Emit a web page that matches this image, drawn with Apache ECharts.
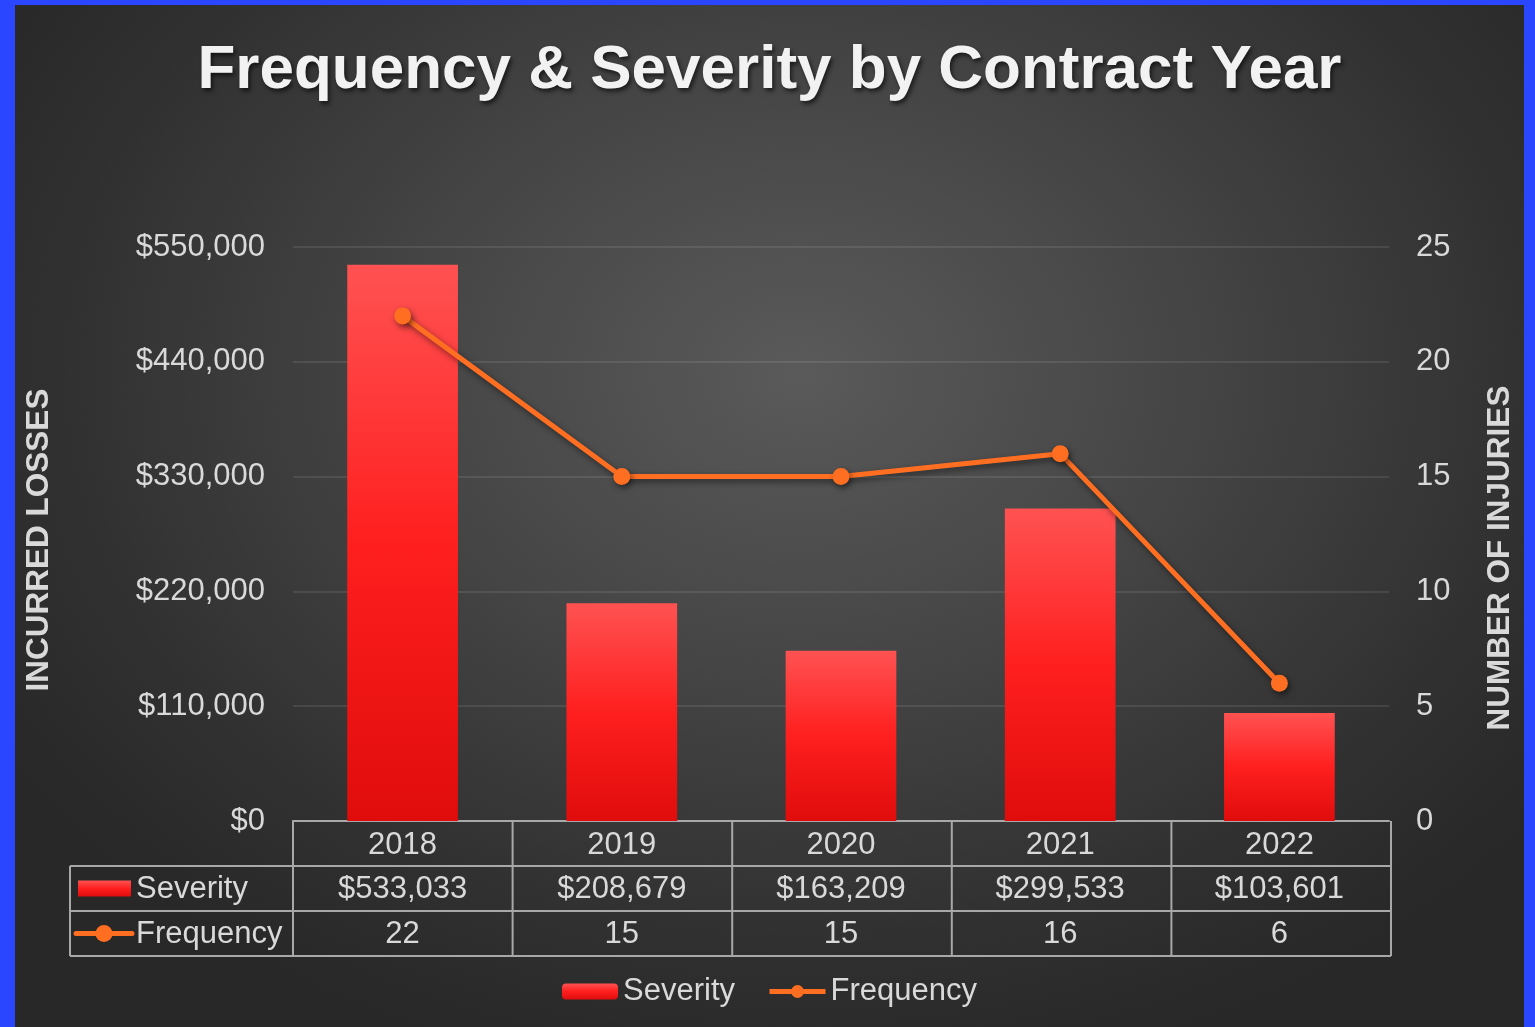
<!DOCTYPE html>
<html>
<head>
<meta charset="utf-8">
<script src="https://cdn.jsdelivr.net/npm/echarts@6/dist/echarts.min.js"></script>
<style>
  html, body { margin: 0; padding: 0; }
  body { width: 1535px; height: 1027px; background: #2b46ff; position: relative; overflow: hidden; }
  #chart {
    position: absolute; left: 15px; top: 5px; width: 1509px; height: 1022px;
    background: radial-gradient(ellipse 62% 70% at 52% 36%, #5a5a5a 0%, #464646 40%, #303030 80%, #282828 100%);
  }
</style>
</head>
<body>
<div id="chart"></div>
<script>
// data
const years = ['2018', '2019', '2020', '2021', '2022']
const severity = [533033, 208679, 163209, 299533, 103601]
const frequency = [22, 15, 15, 16, 6]
const rowNames = ['Severity', 'Frequency']

const FONT = '"Liberation Sans", Arial, sans-serif'
const textColor = '#d9d9d9'
const gridColor = 'rgba(255,255,255,0.12)'
const tableLine = '#a8a8a8'
const barGrad = new echarts.graphic.LinearGradient(0, 0, 0, 1, [
  { offset: 0, color: '#ff5252' },
  { offset: 0.5, color: '#ff1f1f' },
  { offset: 1, color: '#e00c0c' }
])
const lineColor = '#ff6e21'

const money = v => '$' + v.toLocaleString('en-US')

const chart = echarts.init(document.getElementById('chart'))

const gridBox = { left: 278, right: 133, top: 242, bottom: 206 }

chart.setOption({
  animation: false,
  textStyle: { fontFamily: FONT },
  title: {
    text: 'Frequency & Severity by Contract Year',
    left: 'center',
    top: 30,
    textStyle: {
      color: '#f2f2f2',
      fontSize: 62,
      fontWeight: 'bold',
      fontFamily: FONT,
      textShadowColor: 'rgba(0,0,0,0.6)',
      textShadowBlur: 4,
      textShadowOffsetX: 2,
      textShadowOffsetY: 3
    }
  },
  legend: {
    bottom: 15,
    left: 'center',
    itemWidth: 56,
    itemHeight: 16,
    itemGap: 32,
    textStyle: { color: textColor, fontSize: 31, fontFamily: FONT },
    data: [
      'Severity',
      { name: 'Frequency', lineStyle: { width: 5, shadowBlur: 0, shadowOffsetX: 0, shadowOffsetY: 0 } }
    ]
  },
  grid: gridBox,
  xAxis: {
    type: 'category',
    data: years,
    axisLine: { lineStyle: { color: tableLine, width: 2 } },
    axisTick: { show: false },
    axisLabel: { color: textColor, fontSize: 31, margin: 9, fontFamily: FONT }
  },
  yAxis: [
    {
      type: 'value',
      min: 0, max: 550000, interval: 110000,
      name: 'INCURRED LOSSES',
      nameLocation: 'middle',
      nameRotate: 90,
      nameGap: 238,
      nameTextStyle: { color: textColor, fontSize: 31.5, fontWeight: 'bold', fontFamily: FONT, padding: [0, 12, 0, 0] },
      axisLine: { show: false },
      axisTick: { show: false },
      axisLabel: { color: textColor, fontSize: 31, margin: 28, formatter: money, fontFamily: FONT },
      splitLine: { lineStyle: { color: gridColor, width: 1.5 } }
    },
    {
      type: 'value',
      min: 0, max: 25, interval: 5,
      name: 'NUMBER OF INJURIES',
      nameLocation: 'middle',
      nameRotate: 90,
      nameGap: 95,
      nameTextStyle: { color: textColor, fontSize: 31.5, fontWeight: 'bold', fontFamily: FONT, padding: [0, 48, 0, 0] },
      axisLine: { show: false },
      axisTick: { show: false },
      axisLabel: { color: textColor, fontSize: 31, margin: 27, fontFamily: FONT },
      splitLine: { show: false }
    }
  ],
  series: [
    {
      name: 'Severity',
      type: 'bar',
      data: severity,
      barWidth: '50.5%',
      itemStyle: {
        color: barGrad,
        shadowColor: 'rgba(0,0,0,0.55)',
        shadowBlur: 8,
        shadowOffsetX: 3,
        shadowOffsetY: 2
      }
    },
    {
      name: 'Frequency',
      type: 'line',
      yAxisIndex: 1,
      data: frequency,
      symbol: 'circle',
      symbolSize: 17,
      lineStyle: {
        color: lineColor, width: 5,
        shadowColor: 'rgba(0,0,0,0.5)', shadowBlur: 6, shadowOffsetX: 2, shadowOffsetY: 3
      },
      itemStyle: {
        color: lineColor,
        shadowColor: 'rgba(0,0,0,0.5)', shadowBlur: 6, shadowOffsetX: 2, shadowOffsetY: 3
      }
    }
  ]
})

// data table under the axis
function buildTable() {
  const W = chart.getWidth()
  const H = chart.getHeight()
  const left = gridBox.left
  const right = W - gridBox.right
  const axisY = H - gridBox.bottom
  const rowH = 45
  const labelLeft = 55
  const colW = (right - left) / years.length
  const els = []
  const line = (x1, y1, x2, y2) => ({
    type: 'line', silent: true, z: 10,
    shape: { x1, y1, x2, y2 },
    style: { stroke: tableLine, lineWidth: 2 }
  })
  const text = (x, y, t, align) => ({
    type: 'text', silent: true, z: 10,
    x, y,
    style: { text: t, fill: textColor, font: '31px ' + FONT, align: align || 'center', verticalAlign: 'middle' }
  })

  // horizontal rules
  for (let r = 1; r <= 3; r++) {
    els.push(line(labelLeft, axisY + r * rowH, right, axisY + r * rowH))
  }
  // vertical rules
  els.push(line(labelLeft, axisY + rowH, labelLeft, axisY + 3 * rowH))
  for (let i = 0; i <= years.length; i++) {
    const x = left + i * colW
    els.push(line(x, axisY, x, axisY + 3 * rowH))
  }
  // values
  years.forEach((y, i) => {
    const cx = chart.convertToPixel({ xAxisIndex: 0 }, y)
    els.push(text(cx, axisY + rowH * 1.5 + 1, money(severity[i])))
    els.push(text(cx, axisY + rowH * 2.5 + 1, String(frequency[i])))
  })
  // row labels with legend keys
  const r1 = axisY + rowH * 1.5
  const r2 = axisY + rowH * 2.5
  els.push({
    type: 'rect', silent: true, z: 10,
    shape: { x: 63, y: r1 - 8, width: 53, height: 16 },
    style: { fill: barGrad }
  })
  els.push(text(121, r1 + 1, rowNames[0], 'left'))
  els.push({
    type: 'line', silent: true, z: 10,
    shape: { x1: 61, y1: r2, x2: 117, y2: r2 },
    style: { stroke: lineColor, lineWidth: 5, lineCap: 'round' }
  })
  els.push({
    type: 'circle', silent: true, z: 11,
    shape: { cx: 89, cy: r2, r: 8.5 },
    style: { fill: lineColor }
  })
  els.push(text(121, r2 + 1, rowNames[1], 'left'))

  chart.setOption({ graphic: els })
}
buildTable()
</script>
</body>
</html>
